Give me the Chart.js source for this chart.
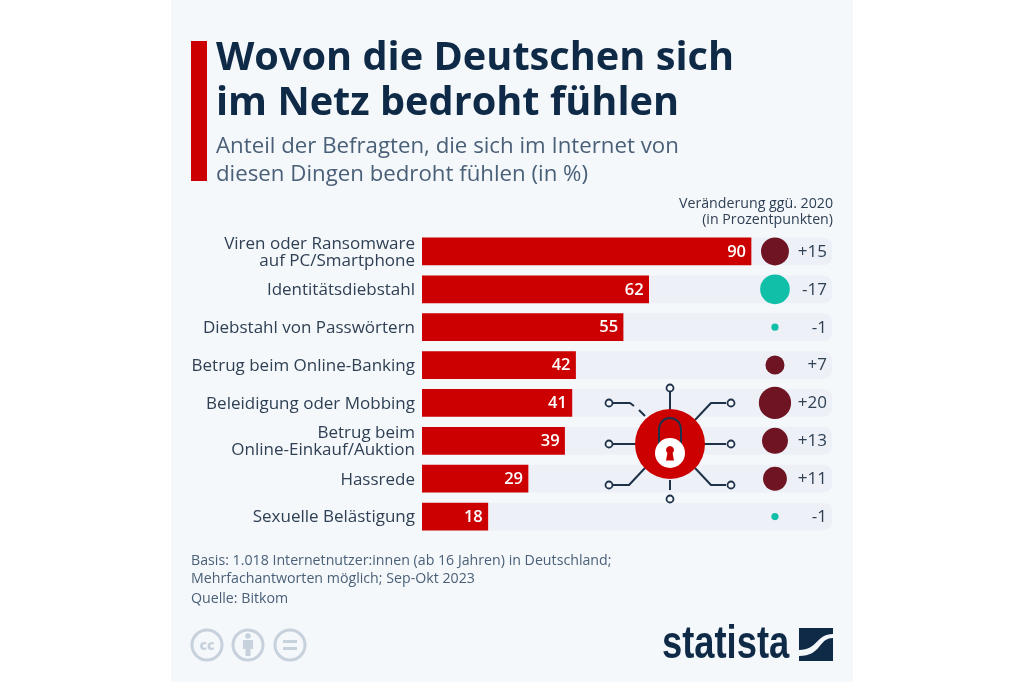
<!DOCTYPE html>
<html lang="de">
<head>
<meta charset="utf-8">
<title>Wovon die Deutschen sich im Netz bedroht fühlen</title>
<script src="https://cdn.jsdelivr.net/npm/chart.js@4"></script>
<style>
  html, body { margin: 0; padding: 0; background: #fff; overflow: hidden; }
  body { width: 1024px; height: 682px; position: relative; font-family: "Open Sans", sans-serif; }
  #panel { position: absolute; left: 171px; top: 0; width: 682px; height: 682px; background: #f5f8fb; }
  #chart { position: absolute; left: 0; top: 0; }
  .txt { position: absolute; white-space: nowrap; }
  #accent { position: absolute; left: 191px; top: 41px; width: 16px; height: 140px; background: #cc0000; }
  #title { left: 216px; top: 33px; font-size: 39.7px; line-height: 45px; font-weight: 700; color: #0f2a47; }
  #subtitle { left: 216px; top: 131px; font-size: 22.25px; line-height: 28px; color: #4a6078; }
  #changeHead { right: 191px; top: 195px; font-size: 14.2px; line-height: 15.5px; text-align: right; color: #2f4054; }
  #notes { left: 191px; top: 551px; font-size: 14.2px; line-height: 18px; color: #4a6078; }
  #source { left: 191px; top: 589px; font-size: 14.2px; line-height: 18px; color: #4a6078; }
  svg { position: absolute; left: 0; top: 0; }
  #brand { left: 662px; top: 615px; font-family: "Liberation Sans", sans-serif; font-weight: 700; font-size: 46px; line-height: 54px; color: #0f2a47; transform: scaleX(0.79); transform-origin: left top; }
</style>
</head>
<body>
<div id="panel"></div>
<canvas id="chart" width="1024" height="682"></canvas>
<div id="accent"></div>
<div class="txt" id="title">Wovon die Deutschen sich<br>im Netz bedroht fühlen</div>
<div class="txt" id="subtitle">Anteil der Befragten, die sich im Internet von<br>diesen Dingen bedroht fühlen (in %)</div>
<div class="txt" id="changeHead">Veränderung ggü. 2020<br>(in Prozentpunkten)</div>
<div class="txt" id="notes">Basis: 1.018 Internetnutzer:innen (ab 16 Jahren) in Deutschland;<br>Mehrfachantworten möglich; Sep-Okt 2023</div>
<div class="txt" id="source">Quelle: Bitkom</div>
<div class="txt" id="brand">statista</div>

<svg width="1024" height="682" viewBox="0 0 1024 682" fill="none">
  <!-- lock illustration -->
  <g stroke="#1d3149" stroke-width="2" stroke-linejoin="round">
    <path d="M670 390V410M670 480V490"/>
    <path d="M611 403H630L634 406M639 410L645 416"/>
    <path d="M695 420L711 403H726"/>
    <path d="M611 444H640M700 444H726"/>
    <path d="M645 468L629 485H611"/>
    <path d="M695 468L711 485H726"/>
    <g fill="#f5f8fb" stroke-width="1.8">
      <circle cx="670" cy="388" r="3.5"/><circle cx="670" cy="499" r="3.5"/>
      <circle cx="609" cy="403" r="3.5"/><circle cx="731" cy="403" r="3.5"/>
      <circle cx="609" cy="444" r="3.5"/><circle cx="731" cy="444" r="3.5"/>
      <circle cx="609" cy="485" r="3.5"/><circle cx="731" cy="485" r="3.5"/>
    </g>
  </g>
  <circle cx="670" cy="444" r="35" fill="#cc0000"/>
  <path d="M659 447V430C659 414 681 414 681 430V447" stroke="#1d3149" stroke-width="2"/>
  <circle cx="670" cy="453" r="15" fill="#fff"/>
  <path d="M670 446a4 4 0 0 1 2.6 7L674 460.5H666L667.4 453A4 4 0 0 1 670 446Z" fill="#cc0000"/>

  <!-- licence icons -->
  <g stroke="#c6d1dc" stroke-width="3">
    <circle cx="207" cy="645" r="15"/><circle cx="248" cy="645" r="15"/><circle cx="290" cy="645" r="15"/>
  </g>
  <text x="207" y="650" text-anchor="middle" font-family="Open Sans" font-weight="800" font-size="14" fill="#c6d1dc">cc</text>
  <g fill="#c6d1dc">
    <circle cx="248" cy="636" r="2.8"/>
    <path d="M243 640H253V649H250.5V656H245.5V649H243Z"/>
    <rect x="283" y="640" width="14" height="3"/><rect x="283" y="647" width="14" height="3"/>
  </g>

  <!-- brand mark -->
  <path d="M799 628H833V634C816 634 818 650 799 650Z" fill="#0f2a47"/>
  <path d="M799 661H833V638C818 638 822 656 799 656Z" fill="#0f2a47"/>
</svg>

<script>
const categories = [
  ["Viren oder Ransomware", "auf PC/Smartphone"],
  "Identitätsdiebstahl",
  "Diebstahl von Passwörtern",
  "Betrug beim Online-Banking",
  "Beleidigung oder Mobbing",
  ["Betrug beim", "Online-Einkauf/Auktion"],
  "Hassrede",
  "Sexuelle Belästigung",
];
const shares = [90, 62, 55, 42, 41, 39, 29, 18];
const changes = [15, -17, -1, 7, 20, 13, 11, -1];

const axisMax = 112.15;
const changeColumn = 96.55;
const rowKeys = categories.map((c) => (Array.isArray(c) ? c.join(" ") : c));

function signed(v) {
  return v > 0 ? `+${v}` : `${v}`;
}

const barLabels = {
  id: "barLabels",
  afterDatasetsDraw(chart) {
    const { ctx, chartArea } = chart;
    const bars = chart.getDatasetMeta(1).data;
    ctx.save();
    ctx.textBaseline = "middle";
    bars.forEach((bar, i) => {
      ctx.font = '600 16.5px "Open Sans"';
      ctx.fillStyle = "#ffffff";
      ctx.textAlign = "right";
      ctx.fillText(shares[i], bar.x - 5, bar.y + 0.5);
      ctx.font = '400 17px "Open Sans"';
      ctx.fillStyle = "#2f4054";
      ctx.fillText(signed(changes[i]), chartArea.right - 5, bar.y + 0.5);
    });
    ctx.restore();
  },
};

new Chart(document.getElementById("chart"), {
  type: "bar",
  data: {
    labels: rowKeys,
    datasets: [
      {
        data: shares.map(() => axisMax),
        backgroundColor: "#edf0f6",
        borderRadius: { topRight: 9, bottomRight: 9 },
        borderSkipped: false,
        barThickness: 27,
        grouped: false,
        order: 3,
      },
      {
        data: shares,
        backgroundColor: "#cc0000",
        barThickness: 27,
        grouped: false,
        order: 2,
      },
      {
        type: "scatter",
        indexAxis: "y",
        data: changes.map((_, i) => ({ x: changeColumn, y: rowKeys[i] })),
        pointRadius: changes.map((v) => 3.6 * Math.sqrt(Math.abs(v))),
        pointBackgroundColor: changes.map((v) => (v > 0 ? "#6e1423" : "#10bfa8")),
        pointBorderWidth: 0,
        order: 1,
      },
    ],
  },
  options: {
    indexAxis: "y",
    responsive: false,
    animation: false,
    layout: { padding: { left: 0, top: 232.5, right: 192, bottom: 146.5 } },
    plugins: { legend: { display: false }, tooltip: { enabled: false } },
    scales: {
      x: { display: false, min: 0, max: axisMax },
      y: {
        afterFit(scale) {
          scale.width = 422;
        },
        grid: { display: false, drawTicks: false },
        border: { display: false },
        ticks: {
          padding: 7,
          labelOffset: 1,
          color: "#2f4054",
          font: { family: "Open Sans", size: 17, lineHeight: 1.03 },
          autoSkip: false,
          callback: (value, index) => categories[index],
        },
      },
    },
  },
  plugins: [barLabels],
});
</script>
</body>
</html>
